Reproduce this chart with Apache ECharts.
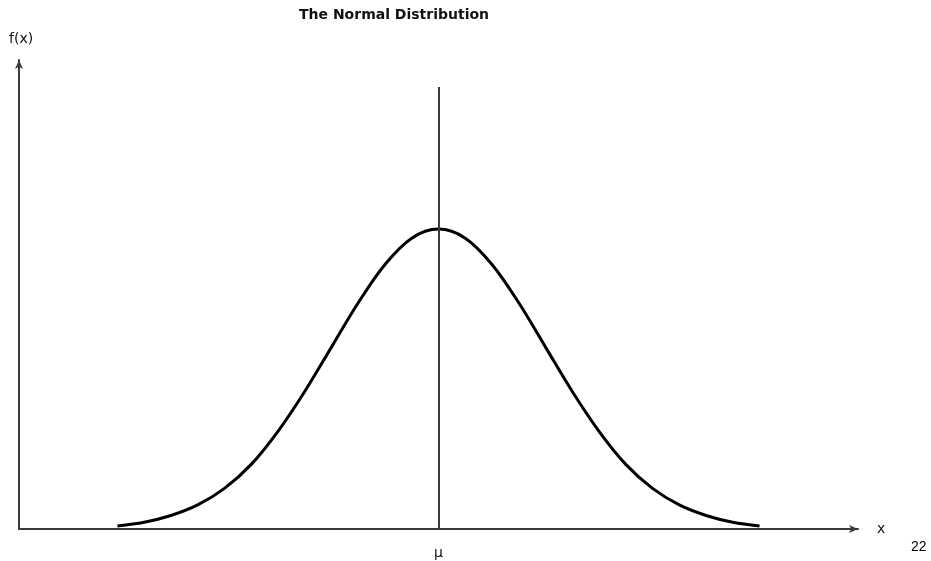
<!DOCTYPE html>
<html>
<head>
<meta charset="utf-8">
<title>The Normal Distribution</title>
<script src="https://cdn.jsdelivr.net/npm/echarts@6/dist/echarts.min.js"></script>
<style>
  html, body { margin: 0; padding: 0; background: #ffffff; }
  #chart { width: 931px; height: 561px; }
</style>
</head>
<body>
<div id="chart"></div>
<script>
// Bell curve, x measured in standard deviations from the mean
const xValues = [-3, -2.75, -2.5, -2.25, -2, -1.75, -1.5, -1.25, -1, -0.75, -0.5, -0.25, 0,
                 0.25, 0.5, 0.75, 1, 1.25, 1.5, 1.75, 2, 2.25, 2.5, 2.75, 3];
const fxValues = [0.004, 0.009, 0.018, 0.032, 0.054, 0.086, 0.130, 0.183, 0.242, 0.301, 0.352, 0.387, 0.399,
                  0.387, 0.352, 0.301, 0.242, 0.183, 0.130, 0.086, 0.054, 0.032, 0.018, 0.009, 0.004];
// Mean marker line: position and top
const meanX = [0];
const meanLineTop = [0.588];
const meanLabel = ['μ'];

const chart = echarts.init(document.getElementById('chart'), null, { renderer: 'canvas' });

const axisColor = '#3a3a3a';

chart.setOption({
  backgroundColor: '#ffffff',
  animation: false,
  title: {
    text: 'The Normal Distribution',
    left: 294,
    top: 3,
    textStyle: {
      fontFamily: 'DejaVu Sans',
      fontSize: 14,
      fontWeight: 'bold',
      color: '#111111'
    }
  },
  grid: { left: 19, right: 73, top: 60, bottom: 32 },
  xAxis: {
    type: 'value',
    min: -3.92,
    max: 3.92,
    name: 'x',
    nameLocation: 'end',
    nameGap: 19,
    nameTextStyle: { fontFamily: 'DejaVu Sans', fontSize: 14, color: '#111111', verticalAlign: 'middle' },
    axisLine: {
      show: true,
      onZero: false,
      symbol: ['none', 'arrow'],
      symbolSize: [6, 9],
      lineStyle: { color: axisColor, width: 2 }
    },
    axisTick: { show: false },
    splitLine: { show: false },
    axisLabel: {
      show: true,
      customValues: meanX,
      formatter: () => meanLabel[0],
      margin: 17,
      fontFamily: 'DejaVu Sans',
      fontSize: 14,
      color: '#111111'
    }
  },
  yAxis: {
    type: 'value',
    min: 0,
    max: 0.624,
    axisLine: {
      show: true,
      onZero: false,
      symbol: ['none', 'arrow'],
      symbolSize: [6, 9],
      lineStyle: { color: axisColor, width: 2 }
    },
    axisTick: { show: false },
    axisLabel: { show: false },
    splitLine: { show: false }
  },
  series: [{
    type: 'line',
    data: xValues.map((x, i) => [x, fxValues[i]]),
    smooth: 0.35,
    showSymbol: false,
    lineStyle: { color: '#000000', width: 3 },
    silent: true,
    markLine: {
      silent: true,
      symbol: ['none', 'none'],
      label: { show: false },
      lineStyle: { color: axisColor, width: 2, type: 'solid' },
      data: [[{ coord: [meanX[0], 0] }, { coord: [meanX[0], meanLineTop[0]] }]]
    }
  }],
  graphic: [{
    type: 'text',
    left: 9,
    top: 32,
    style: { text: 'f(x)', font: '14px "DejaVu Sans", sans-serif', fill: '#111111' }
  }, {
    type: 'text',
    left: 911,
    top: 540,
    style: { text: '22', font: '14px "Liberation Sans", Arial, sans-serif', fill: '#000000' }
  }]
});
</script>
</body>
</html>
